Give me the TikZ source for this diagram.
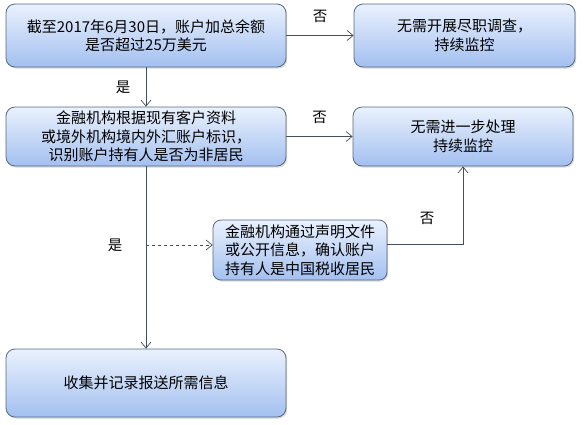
\documentclass[tikz,border=0pt]{standalone}
\usepackage{fontspec}
\setmainfont{Noto Sans CJK SC}
\usepackage{tikz}
\usetikzlibrary{arrows.meta,shadows}
\definecolor{boxtop}{HTML}{EAF1FD}
\definecolor{boxbot}{HTML}{A3C0F0}
\definecolor{boxline}{HTML}{55697F}
\definecolor{flowline}{HTML}{44505C}

\begin{document}
\begin{tikzpicture}[x=1pt, y=1pt,
    >={Straight Barb[length=6pt,width=10pt]},
    stepbox/.style={draw=boxline, line width=0.8pt, rounded corners=9pt,
        top color=boxtop, bottom color=boxbot, align=center,
        font=\fontsize{15}{18.5}\selectfont, inner sep=0pt,
        drop shadow={shadow xshift=1.2pt, shadow yshift=-1.5pt, opacity=0.3}},
    flow/.style={draw=flowline, line width=0.7pt},
    answer/.style={font=\fontsize{14.5}{16}\selectfont}]
    \useasboundingbox (0,0) rectangle (585,-424);

    % Question on total balance
    \node[stepbox, minimum width=280, minimum height=63] (total) at (146,-35.5)
        {截至2017年6月30日，账户加总余额\\是否超过25万美元};
    \node[stepbox, minimum width=221, minimum height=63] (nocheck) at (464.5,-35.5)
        {无需开展尽职调查，\\持续监控};

    % Question on residence
    \node[stepbox, minimum width=280, minimum height=59] (resident) at (146,-136.5)
        {金融机构根据现有客户资料\\或境外机构境内外汇账户标识，\\识别账户持有人是否为非居民};
    \node[stepbox, minimum width=220, minimum height=59] (noaction) at (463,-136.5)
        {无需进一步处理\\持续监控};

    % Confirmation box
    \node[stepbox, minimum width=174, minimum height=60, rounded corners=8pt] (confirm) at (300,-250)
        {金融机构通过声明文件\\或公开信息，确认账户\\持有人是中国税收居民};

    % Final step
    \node[stepbox, minimum width=280, minimum height=68] (collect) at (146,-383)
        {收集并记录报送所需信息};

    % Connectors
    \draw[flow, ->] (total) -- (nocheck) node[answer, midway, above=9pt] {否};
    \draw[flow, ->] (total) -- (resident) node[answer, midway, left=12pt] {是};
    \draw[flow, ->] (resident) -- (noaction) node[answer, midway, above=9pt] {否};
    \draw[flow, ->] (resident) -- (collect);

    % Dashed branch
    \coordinate (branch) at (146,-245);
    \draw[flow, dashed, ->] (branch) -- (branch -| confirm.west);
    \node[answer] (yes) at (115,-245) {是};
    \draw[flow, ->] ([yshift=6pt]confirm.east) -| (noaction.south);
    \node[answer] (no) at (427,-218) {否};
\end{tikzpicture}
\end{document}
